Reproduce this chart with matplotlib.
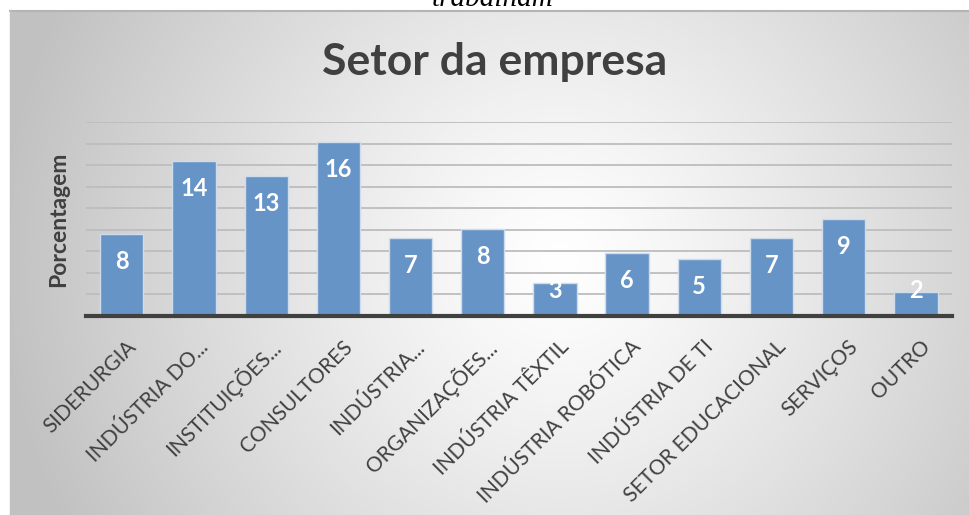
import numpy as np
import matplotlib
matplotlib.use("Agg")
import matplotlib.pyplot as plt
import matplotlib.transforms as mtransforms

categories = ["SIDERURGIA", "INDÚSTRIA DO...", "INSTITUIÇÕES...", "CONSULTORES",
              "INDÚSTRIA...", "ORGANIZAÇÕES...", "INDÚSTRIA TÊXTIL",
              "INDÚSTRIA ROBÓTICA", "INDÚSTRIA DE TI", "SETOR EDUCACIONAL",
              "SERVIÇOS", "OUTRO"]
values = [7.6, 14.4, 13.0, 16.1, 7.2, 8.1, 3.1, 5.8, 5.3, 7.2, 9.0, 2.2]
labels = ["8", "14", "13", "16", "7", "8", "3", "6", "5", "7", "9", "2"]
title = "Setor da empresa"
ylabel = "Porcentagem"
above_text = "trabalham"

W, H = 970, 515
fig = plt.figure(figsize=(W / 100, H / 100), dpi=100)
fig.patch.set_facecolor("white")

# background panel with radial gradient
x0, y0 = 10, 10
bg = fig.add_axes([x0 / W, 0, (W - x0) / W, (H - y0) / H])
bg.set_axis_off()
nx, ny = 480, 255
xs = np.linspace(x0, W, nx)
ys = np.linspace(y0, H, ny)
X, Y = np.meshgrid(xs, ys)
cx, cy, rx, ry = 560, 260, 560, 560
d = np.sqrt(((X - cx) / rx) ** 2 + ((Y - cy) / ry) ** 2)
g = 1.0 - (1.0 - 0.76) * np.clip(d, 0, 1) ** 1.2
img = np.dstack([g, g, g])
bg.imshow(img, extent=[0, 1, 0, 1], origin="upper", aspect="auto", interpolation="bilinear")
bg.set_xlim(0, 1)
bg.set_ylim(0, 1)
bg.plot([0, 1], [1 - 1.0 / (H - y0), 1 - 1.0 / (H - y0)], color="#b4b4b4", lw=1.5, transform=bg.transAxes, clip_on=False)
bg.plot([0.5 / (W - x0), 0.5 / (W - x0)], [0, 1], color="#c0c0c0", lw=1.0, transform=bg.transAxes, clip_on=False)

# cut-off text above chart
fig.text(493 / W, 1 - 6 / H, above_text, ha="center", va="baseline",
         fontsize=21, family="Liberation Serif", style="italic", color="black")

# main axes
left, right, base, top = 85.7, 952, 316, 122
ax = fig.add_axes([left / W, (H - base) / H, (right - left) / W, (base - top) / H])
ax.set_facecolor("none")
xpos = np.arange(len(categories))
ax.set_xlim(-0.5, len(categories) - 0.5)
ax.set_ylim(0, 18)
ax.set_yticks(np.arange(2, 19, 2))
ax.yaxis.grid(True, color="#bdbdbd", lw=1.3)
ax.set_axisbelow(True)
ax.tick_params(axis="y", length=0, labelleft=False)
for s in ["top", "right", "left"]:
    ax.spines[s].set_visible(False)
ax.spines["bottom"].set_color("#404040")
ax.spines["bottom"].set_linewidth(3)
ax.spines["bottom"].set_zorder(5)

ax.bar(xpos, values, width=0.6, color="#6794c7", edgecolor="#cfdcec", linewidth=1.0, zorder=3)

px_per_unit = (base - top) / 18.0
for xi, v, lab in zip(xpos, values, labels):
    yl = max(v - 27.5 / px_per_unit, 25 / px_per_unit)
    ax.text(xi, yl, lab, ha="center", va="center", color="white",
            fontsize=17, fontweight="bold", family="Lato", zorder=6)

ax.set_xticks(xpos)
ax.set_xticklabels(categories, rotation=45, ha="right", va="center",
                   rotation_mode="anchor", fontsize=15, family="Lato",
                   fontweight="normal", color="#404040")
ax.tick_params(axis="x", length=0, pad=20)
offset = mtransforms.ScaledTranslation(8 / 72, 0, fig.dpi_scale_trans)
for t in ax.get_xticklabels():
    t.set_transform(t.get_transform() + offset)

ax.set_ylabel(ylabel, fontsize=16.5, fontweight="bold", family="Lato", color="#404040", labelpad=12)

fig.text(495 / W, 1 - 62 / H, title, ha="center", va="center",
         fontsize=32, fontweight="bold", family="Lato", color="#404040")

fig.savefig("out.png", dpi=100)
